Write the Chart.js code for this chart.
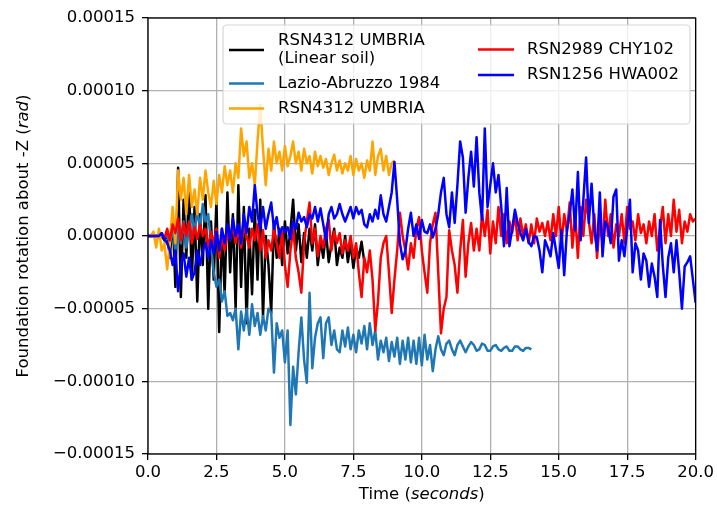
<!DOCTYPE html>
<html>
<head>
<meta charset="utf-8">
<script src="https://cdn.jsdelivr.net/npm/chart.js@4"></script>
<style>
  html, body { margin: 0; padding: 0; background: #ffffff; }
  #wrap { width: 717px; height: 509px; }
</style>
</head>
<body>
<div id="wrap"><canvas id="c" width="717" height="509"></canvas></div>
<script>
// Foundation rotation histories, sampled every DT seconds, values in units of 1e-5 rad
const DT = 0.1;
const UNIT = 1e-5;

const seriesNames = [
  'RSN4312 UMBRIA\n(Linear soil)',
  'Lazio-Abruzzo 1984',
  'RSN4312 UMBRIA',
  'RSN2989 CHY102',
  'RSN1256 HWA002'
];

const umbriaLinear = [
  0, 0, 0, 0, 0, 0, -0.3, 0.2, -1.5, 1.5,
  -3.5, 4.7, -4.2, 2.5, -1.5, 3.5, -3.0, 2.0, -4.5, 1.5,
  -2.0, 2.8, -5.0, 1.0, -3.0, 2.5, -6.6, 0.5, -4.0, 3.0,
  -2.5, 1.5, -5.0, 3.5, -3.5, 2.0, -6.0, 0.5, -4.0, 1.8,
  -3.0, 2.5, -5.6, 0.0, -2.0, -5.3, 1.0, -1.5, 0.5, -2.0,
  1.0, -1.2, 0.3, 2.5, -1.0, 0.8, -1.8, 0.2, -1.5, 0.5,
  -1.0, 0.8, -2.0, -0.3, -1.5, 0.3, -1.8, -0.5, 0.5, -2.0,
  -0.8, -1.5, 0.0, -1.8, -0.5, -2.2, -0.8, -1.5, -0.4, -1.8
];

const lazioAbruzzo = [
  0, 0, 0, 0, 0, 0, 0, 0, -0.5, 0.5,
  -1.0, 0.8, -0.5, 1.0, -0.8, 0.5, 1.5, 0.2, 1.8, 0.5,
  2.2, 1.0, 1.5, -0.5, -2.5, -3.5, -3.0, -4.5, -3.8, -5.5,
  -5.3, -5.8, -5.0, -7.8, -5.2, -6.5, -5.0, -6.8, -4.7, -6.2,
  -5.3, -6.8, -5.5, -6.5, -5.0, -5.3, -9.4, -6.0, -7.0, -6.5,
  -8.7, -6.5, -13.0, -9.0, -10.9, -8.0, -5.6, -8.5, -10.1, -3.9,
  -9.1, -7.0, -6.0, -5.6, -8.4, -6.0, -5.6, -7.5, -6.5, -7.8,
  -8.0, -6.5, -7.6, -6.3, -7.8, -6.8, -8.0, -6.5, -7.4, -6.2,
  -7.8, -6.0, -7.5, -6.5, -8.5, -7.2, -8.0, -7.0, -8.6, -7.3,
  -8.3, -7.0, -8.8, -7.2, -8.5, -7.0, -8.7, -7.2, -8.8, -7.0,
  -8.9, -6.8, -8.5, -7.5, -9.3, -7.8, -6.9, -7.8, -8.2, -7.4,
  -7.2, -7.8, -8.2, -7.5, -7.2, -7.6, -8.0, -7.6, -7.3, -7.5,
  -7.9, -7.8, -7.4, -7.5, -7.9, -7.9, -7.6, -7.5, -7.8, -7.9,
  -7.7, -7.6, -7.9, -7.9, -7.6, -7.6, -7.8, -7.9, -7.7, -7.7,
  -7.8
];

const umbria = [
  0, 0, 0.3, -0.8, 0.5, -1.0, -0.5, -2.3, -0.5, 2.0,
  -0.5, 4.5, 2.5, 4.0, 1.5, 4.2, 2.0, 3.2, 1.5, 4.0,
  2.5, 4.5, 3.0, 2.0, 3.8, 2.2, 4.2, 3.0, 4.8, 3.5,
  4.5, 3.0, 5.0, 4.0, 7.4, 5.5, 6.5, 4.0, 5.0, 3.5,
  6.5, 9.0, 6.0, 3.5, 6.0, 4.5, 6.5, 5.0, 5.8, 4.5,
  6.2, 4.8, 5.5, 6.5, 5.0, 5.8, 4.5, 6.0, 5.0, 5.5,
  4.3, 5.8, 4.8, 5.5, 4.7, 5.3, 4.2, 5.0, 5.6, 4.5,
  5.2, 4.3, 5.0, 4.5, 5.5, 4.2, 5.3, 4.5, 5.0, 4.0,
  5.2, 4.5, 6.5, 4.2, 5.5, 6.0, 4.5, 5.5, 4.2, 5.0,
  5.2
];

const chy102 = [
  0, 0, 0, 0, 0, 0.2, -0.2, 0.5, -0.3, 0.8,
  0.2, 1.2, -0.3, 0.9, 0.0, 1.0, -0.5, 0.6, -0.2, 0.8,
  0.0, 0.5, -0.8, 0.3, -0.5, 0.5, -1.5, 0.0, -1.0, 0.3,
  -0.3, 0.8, -0.5, 0.5, -0.8, 0.6, 0.0, -0.8, 0.5, -0.3,
  0.8, -1.0, 0.4, -1.5, -0.3, -1.0, 0.5, -0.5, -1.5, 0.3,
  -2.0, -3.5, -1.0, 0.5, -1.5, -2.5, -3.9, -0.5, 1.0, 2.3,
  -0.5, 0.5, -1.4, 0.0, -0.8, 0.5, 1.1, -1.0, 0.3, -0.5,
  0.2, -1.2, -0.3, -1.0, 0.0, -1.5, -0.5, -2.5, -4.2, -1.5,
  -2.5, -1.0, -3.0, -6.5, -4.5, -1.5, -0.5, 0.0, -2.5, -5.3,
  -3.0, -1.0, 1.6, 0.0, -1.0, -2.3, -0.5, -1.5, 0.5, 1.3,
  -1.0, -2.5, -3.9, -0.5, 0.8, 1.6, -2.5, -6.7, -5.0, -4.2,
  0.4, -1.0, -2.0, -3.9, -1.0, 1.1, -2.8, -0.5, 0.9, -1.0,
  0.5, -1.0, 1.5, 0.0, 1.8, -1.2, 1.0, -0.5, 2.0, 0.0,
  1.5, -0.5, 1.0, 0.2, 1.5, -0.3, 1.2, 0.0, 0.8, -0.5,
  0.8, -0.5, 1.2, 0.3, 0.9, 0.0, 1.0, -0.3, 1.5, 0.0,
  2.0, -0.5, 1.5, 0.3, 2.3, -0.8, 1.5, -1.5, 2.0, 0.0,
  2.5, 1.0, -0.5, 1.5, -1.5, 1.0, -0.5, 2.5, 0.0, 1.5,
  -0.8, 0.8, 0.0, 1.5, -0.5, 2.0, 0.5, 1.0, -0.3, 1.5,
  0.2, 0.8, -0.5, 1.0, 0.0, 1.5, -1.0, 0.5, 2.0, -0.5,
  1.5, 0.0, 2.5, 0.3, 1.8, -0.5, 1.0, 0.3, 1.5, 1.0,
  1.2
];

const hwa002 = [
  0, 0, 0, 0, 0, 0.2, -0.2, -0.5, -1.0, -2.0,
  -1.0, -3.8, -2.0, -1.2, -2.8, -1.5, -3.0, -2.5, -1.0, -2.0,
  -1.0, -0.5, -1.5, -0.3, -1.2, 0.3, -1.0, 0.5, -0.5, 0.8,
  -0.3, 1.2, 0.0, 0.8, -0.5, 1.5, 0.2, 2.0, 1.0, 3.5,
  1.5, 0.5, 2.0, 0.5, 1.5, 2.3, 0.5, 1.3, 0.0, 0.6,
  0.3, 0.6, -0.2, 1.0, 0.5, 1.6, 1.0, 1.3, 0.6, 1.5,
  1.2, 2.0, 1.0, 1.9, 0.8, -0.3, 1.5, 2.0, 1.2, 1.5,
  2.2, 1.5, 1.0, 1.5, 2.0, 1.2, 2.0, 1.5, 1.8, 0.8,
  0.6, 1.5, 1.0, 1.8, 1.2, 2.8, 1.5, 1.0, 2.0, 3.0,
  5.1, 2.5, -0.5, -1.6, -1.0, 0.5, 1.6, 0.0, 0.8, -0.2,
  1.1, 0.3, 0.2, 0.8, -0.1, 0.5, 1.5, 3.0, 4.0, 1.5,
  0.6, 3.0, 0.9, 3.5, 6.5, 5.4, 1.6, 4.0, 5.8, 3.4,
  6.8, 3.0, 1.1, 7.4, 2.0, 3.5, 5.0, 3.0, 4.2, 2.0,
  -0.7, 3.3, -0.7, 0.5, 1.8, 0.9, 0.2, -0.3, 0.5, -0.4,
  -0.7, 0.0, -0.1, -1.0, -2.5, -0.3, -0.8, -1.4, 0.2, -1.0,
  -2.2, 0.4, -2.7, 0.4, 1.5, 3.2, 0.4, 4.4, -0.3, 2.5,
  5.4, 0.9, 3.6, 0.5, -1.0, 3.0, -1.4, 1.0, 0.6, -0.5,
  2.7, 3.2, -1.7, -0.3, -1.4, 0.5, 2.5, -2.5, -0.5, -1.0,
  -3.0, -1.2, -1.7, -3.5, -1.9, -2.8, -4.2, 1.1, -2.0, -4.2,
  -1.5, -0.5, -2.5, -0.3, -2.5, -5.0, -2.1, -1.8, -1.4, -3.0,
  -4.6
];

const seriesValues = [umbriaLinear, lazioAbruzzo, umbria, chy102, hwa002];
const seriesColors = ['#000000', '#1f77b4', '#ffa500', '#ff0000', '#0000ff'];

const xTicks = [0, 2.5, 5, 7.5, 10, 12.5, 15, 17.5, 20];
const yTicks = [-0.00015, -0.0001, -0.00005, 0, 0.00005, 0.0001, 0.00015];

const FONT = 'DejaVu Sans';
const FS = 16.5;

function toPoints(values) {
  return values.map((v, i) => ({ x: +(i * DT).toFixed(2), y: v * UNIT }));
}

const datasets = seriesValues.map((vals, i) => ({
  label: seriesNames[i],
  data: toPoints(vals),
  borderColor: seriesColors[i],
  backgroundColor: seriesColors[i],
  borderWidth: 2.5,
  pointRadius: 0,
  tension: 0,
  fill: false,
  borderJoinStyle: 'round',
  order: seriesValues.length - i
}));

function fmtY(v) {
  if (Math.abs(v) < 1e-12) v = 0;
  return v.toFixed(5).replace('-', '\u2212');
}

// Axes frame drawn on all four sides, then the legend box on top
const framePlugin = {
  id: 'frame',
  afterDatasetsDraw(chart) {
    const { ctx, chartArea: a } = chart;
    ctx.save();
    ctx.strokeStyle = '#000000';
    ctx.lineWidth = 1.3;
    ctx.strokeRect(a.left, a.top, a.right - a.left, a.bottom - a.top);
    ctx.restore();
  }
};

const legendPlugin = {
  id: 'boxLegend',
  afterDatasetsDraw(chart) {
    const { ctx } = chart;
    const box = { l: 223, t: 25, r: 690, b: 124, rad: 4 };
    ctx.save();
    ctx.beginPath();
    ctx.roundRect(box.l, box.t, box.r - box.l, box.b - box.t, box.rad);
    ctx.fillStyle = 'rgba(255,255,255,0.8)';
    ctx.fill();
    ctx.strokeStyle = 'rgba(204,204,204,0.8)';
    ctx.lineWidth = 1.2;
    ctx.stroke();

    // two columns: first three entries, then the remaining two
    const columns = [
      { handle: [229, 264], text: 278, items: [0, 1, 2], rows: [50, 83.5, 108.5] },
      { handle: [478, 514], text: 527, items: [3, 4], rows: [49.5, 75] }
    ];
    const lineGap = 18;
    ctx.font = FS + 'px "' + FONT + '"';
    ctx.textBaseline = 'middle';
    ctx.textAlign = 'left';
    columns.forEach(col => {
      col.items.forEach((di, k) => {
        const ds = chart.data.datasets[di];
        const cy = col.rows[k];
        ctx.strokeStyle = ds.borderColor;
        ctx.lineWidth = 2.5;
        ctx.beginPath();
        ctx.moveTo(col.handle[0], cy);
        ctx.lineTo(col.handle[1], cy);
        ctx.stroke();
        const lines = ds.label.split('\n');
        const y0 = cy - (lines.length - 1) * lineGap / 2;
        ctx.fillStyle = '#000000';
        lines.forEach((ln, j) => ctx.fillText(ln, col.text, y0 + j * lineGap));
      });
    });
    ctx.restore();
  }
};

// Axis titles with an italic unit part
function drawMixed(ctx, parts, x, y) {
  let total = 0;
  const widths = parts.map(p => {
    ctx.font = (p.italic ? 'italic ' : '') + FS + 'px "' + FONT + '"';
    const w = ctx.measureText(p.text).width;
    total += w;
    return w;
  });
  let cx = x - total / 2;
  parts.forEach((p, i) => {
    ctx.font = (p.italic ? 'italic ' : '') + FS + 'px "' + FONT + '"';
    ctx.fillText(p.text, cx, y);
    cx += widths[i];
  });
}

const titlesPlugin = {
  id: 'axisTitles',
  afterDraw(chart) {
    const { ctx, chartArea: a } = chart;
    ctx.save();
    ctx.fillStyle = '#000000';
    ctx.textBaseline = 'middle';
    ctx.textAlign = 'left';
    drawMixed(ctx, [
      { text: 'Time (' }, { text: 'seconds', italic: true }, { text: ')' }
    ], (a.left + a.right) / 2, 495);
    ctx.translate(24, (a.top + a.bottom) / 2);
    ctx.rotate(-Math.PI / 2);
    drawMixed(ctx, [
      { text: 'Foundation rotation about -Z (' }, { text: 'rad', italic: true }, { text: ')' }
    ], 0, 0);
    ctx.restore();
  }
};

new Chart(document.getElementById('c'), {
  type: 'line',
  data: { datasets },
  plugins: [framePlugin, legendPlugin, titlesPlugin],
  options: {
    responsive: false,
    animation: false,
    events: [],
    layout: { padding: { top: 18, right: 19, left: 0, bottom: 0 } },
    plugins: { legend: { display: false }, tooltip: { enabled: false } },
    scales: {
      x: {
        type: 'linear',
        min: 0,
        max: 20,
        afterFit(scale) { scale.height = 55; },
        afterBuildTicks(scale) { scale.ticks = xTicks.map(v => ({ value: v })); },
        ticks: {
          color: '#000000',
          font: { family: FONT, size: FS },
          padding: 3,
          maxRotation: 0,
          callback: v => Number(v).toFixed(1)
        },
        grid: {
          color: '#b0b0b0',
          lineWidth: 1.3,
          tickColor: '#000000',
          tickWidth: 1.3,
          tickLength: 6
        },
        border: { display: false }
      },
      y: {
        type: 'linear',
        min: -0.00015,
        max: 0.00015,
        afterFit(scale) { scale.width = 148; },
        afterBuildTicks(scale) { scale.ticks = yTicks.map(v => ({ value: v })); },
        ticks: {
          color: '#000000',
          font: { family: FONT, size: FS },
          padding: 7,
          callback: v => fmtY(v)
        },
        grid: {
          color: '#b0b0b0',
          lineWidth: 1.3,
          tickColor: '#000000',
          tickWidth: 1.3,
          tickLength: 6
        },
        border: { display: false }
      }
    }
  }
});
</script>
</body>
</html>
